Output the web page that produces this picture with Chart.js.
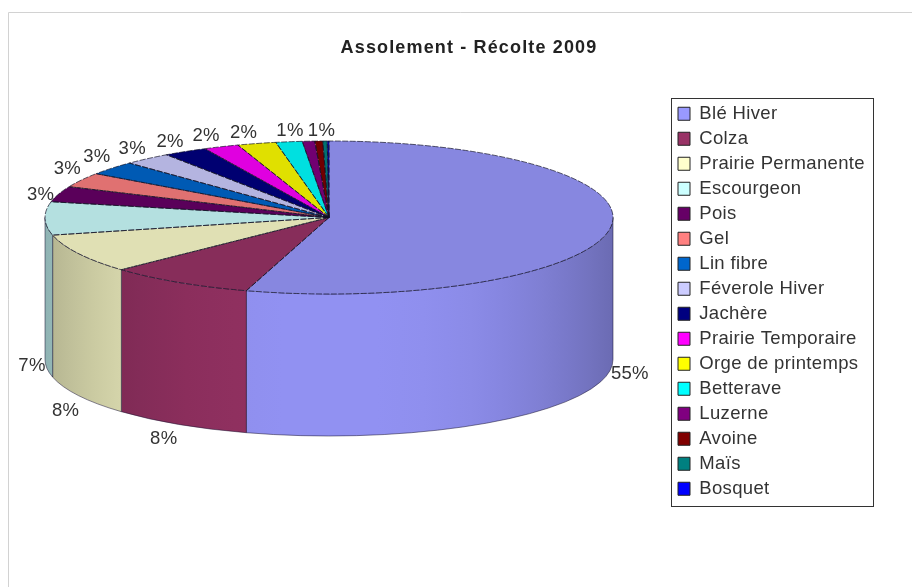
<!DOCTYPE html>
<html>
<head>
<meta charset="utf-8">
<script src="https://cdn.jsdelivr.net/npm/chart.js@4/dist/chart.umd.min.js"></script>
<style>html,body{margin:0;padding:0;background:#fff}canvas{display:block}</style>
</head>
<body>
<canvas id="c" width="912" height="587"></canvas>
<script>
const chartTitle = 'Assolement - Récolte 2009';
const categories = ['Blé Hiver','Colza','Prairie Permanente','Escourgeon','Pois','Gel','Lin fibre','Féverole Hiver','Jachère','Prairie Temporaire','Orge de printemps','Betterave','Luzerne','Avoine','Maïs','Bosquet'];
const shares = [54.7,8.35,8.25,7.0,3.3,3.1,2.9,2.7,2.5,2.0,2.2,1.5,0.7,0.45,0.25,0.1];
const shownPercents = [55,8,8,7,3,3,3,3,2,2,2,1,1,null,null,null];
const sliceColors = ['#9999FF','#993366','#FFFFCC','#CCFFFF','#660066','#FF8080','#0066CC','#CCCCFF','#000080','#FF00FF','#FFFF00','#00FFFF','#800080','#800000','#008080','#0000FF'];

// Presentation settings
const pieCenterY = 217.5, pieRadiusY = 76.5, wallDepth = 142, topShade = 0.88;
const labelNudges = [[20,3],[-15,14],[-13,15],[-13,5],[-18,1],[-14,-11],[-15,-11],[-15,-10],[-15,-10],[-15,-11],[-13,-11],[1,-11],[13,-10]];

function shade(hex, f){
  const n = parseInt(hex.slice(1),16);
  const c = [(n>>16)&255,(n>>8)&255,n&255].map(v=>Math.round(v*f));
  return `rgb(${c[0]},${c[1]},${c[2]})`;
}
function wallLight(u){ return 0.95 - 0.25*Math.pow(Math.abs(u),2.5); }
function spaced(box, spacing){
  if(box._spaced) return;
  box._spaced = true;
  const original = box.draw;
  box.draw = function(area){
    const c = this.ctx;
    c.save(); c.letterSpacing = spacing;
    original.call(this, area);
    c.restore();
  };
}

const piePlugin = {
  id:'pie3d',
  beforeDraw(chart){
    const ctx = chart.ctx;
    ctx.save();
    ctx.strokeStyle = '#d2d2d2'; ctx.lineWidth = 1;
    ctx.beginPath(); ctx.moveTo(8.5,587); ctx.lineTo(8.5,12.5); ctx.lineTo(912,12.5); ctx.stroke();
    ctx.restore();
  },
  beforeDatasetsDraw(chart){
    const ctx = chart.ctx, arcs = chart.getDatasetMeta(0).data;
    const {x:cx, outerRadius:rx} = arcs[0].getProps(['x','outerRadius']);
    const cyRaw = arcs[0].getProps(['y']).y;
    ctx.save();
    arcs.forEach((arc,i)=>{
      const {startAngle,endAngle} = arc.getProps(['startAngle','endAngle']);
      const a1 = Math.max(startAngle,0), a2 = Math.min(endAngle,Math.PI);
      if(a2<=a1) return;
      const g = ctx.createLinearGradient(cx-rx,0,cx+rx,0);
      for(let k=0;k<=24;k++){ g.addColorStop(k/24, shade(sliceColors[i], wallLight(k/12-1))); }
      ctx.beginPath();
      ctx.ellipse(cx,pieCenterY,rx,pieRadiusY,0,a1,a2);
      ctx.ellipse(cx,pieCenterY+wallDepth,rx,pieRadiusY,0,a2,a1,true);
      ctx.closePath();
      ctx.fillStyle = g; ctx.fill();
      ctx.strokeStyle = 'rgba(25,20,50,0.65)'; ctx.lineWidth = 0.8; ctx.stroke();
    });
    ctx.restore();
    ctx.save();
    ctx.translate(0,pieCenterY);
    ctx.scale(1,pieRadiusY/rx);
    ctx.translate(0,-cyRaw);
  },
  afterDatasetsDraw(chart){
    const ctx = chart.ctx, arcs = chart.getDatasetMeta(0).data;
    ctx.restore();
    const {x:cx, outerRadius:rx} = arcs[0].getProps(['x','outerRadius']);
    ctx.save();
    ctx.lineWidth = 0.8; ctx.strokeStyle = 'rgba(15,15,35,0.85)'; ctx.setLineDash([6,1.5]);
    arcs.forEach(arc=>{
      const {startAngle,endAngle} = arc.getProps(['startAngle','endAngle']);
      ctx.beginPath();
      ctx.moveTo(cx,pieCenterY);
      ctx.ellipse(cx,pieCenterY,rx,pieRadiusY,0,startAngle,endAngle);
      ctx.closePath();
      ctx.stroke();
    });
    ctx.restore();
    ctx.save();
    ctx.font = '18.5px "Liberation Sans"'; ctx.letterSpacing = '0.3px'; ctx.fillStyle = '#333';
    ctx.textAlign = 'center'; ctx.textBaseline = 'middle';
    arcs.forEach((arc,i)=>{
      if(shownPercents[i]===null) return;
      const {startAngle,endAngle} = arc.getProps(['startAngle','endAngle']);
      const a = (startAngle+endAngle)/2, s = Math.sin(a);
      const x = cx + rx*Math.cos(a) + labelNudges[i][0];
      const y = pieCenterY + pieRadiusY*s + (s>0?wallDepth:0) + labelNudges[i][1];
      ctx.fillText(shownPercents[i]+'%',x,y);
    });
    ctx.restore();
  },
  afterLayout(chart){
    const l = chart.legend;
    l.left = 671.5; l.right = 873; l.top = 98; l.bottom = 520;
    spaced(l,'0.35px');
    const t = chart.titleBlock;
    t.left = 26; t.right = 912; t.top = 39; t.bottom = 60;
    spaced(t,'1.15px');
  },
  afterDraw(chart){
    const ctx = chart.ctx;
    ctx.save();
    ctx.strokeStyle = '#333'; ctx.lineWidth = 1;
    ctx.strokeRect(671.5,98.5,202,408);
    ctx.restore();
  }
};

new Chart(document.getElementById('c'),{
  type:'pie',
  data:{labels:categories,datasets:[{data:shares,backgroundColor:sliceColors.map(c=>shade(c,topShade)),borderWidth:0,hoverOffset:0}]},
  options:{
    responsive:false,animation:false,events:[],
    layout:{padding:{left:45,right:299,top:0,bottom:0}},
    plugins:{
      tooltip:{enabled:false},
      title:{display:true,text:chartTitle,color:'#222',padding:0,font:{family:'"Liberation Sans"',size:18,weight:'bold',lineHeight:1.05}},
      legend:{
        position:'chartArea',align:'start',
        labels:{
          boxWidth:12,boxHeight:13,padding:6.5,color:'#333',
          font:{family:'"Liberation Sans"',size:18.5},
          generateLabels(){
            return categories.map((c,i)=>({text:c,fillStyle:sliceColors[i],strokeStyle:'#222',lineWidth:1,index:i,hidden:false,fontColor:'#333'}));
          }
        }
      }
    }
  },
  plugins:[piePlugin]
});
</script>
</body>
</html>
